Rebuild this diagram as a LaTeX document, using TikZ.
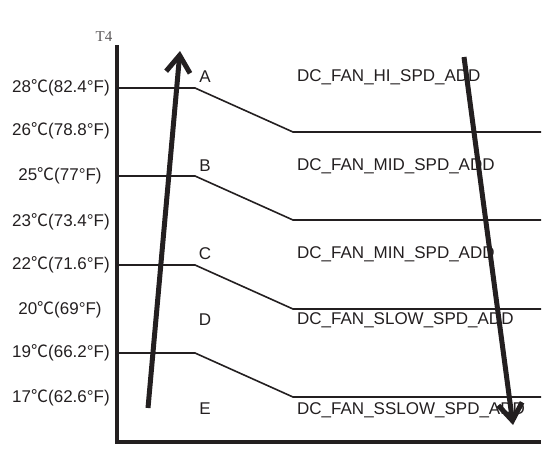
\documentclass[tikz,border=0pt]{standalone}
\usepackage{fontspec}
\setmainfont{Liberation Sans}
\newfontfamily\cjk{Noto Sans CJK SC}
\newfontfamily\tfont{Liberation Serif}
\usetikzlibrary{arrows.meta}
\definecolor{ink}{HTML}{231F20}
\begin{document}
\begin{tikzpicture}[x=1pt,y=-1pt,
  lbl/.style={font=\fontsize{17}{19}\selectfont, text=ink, inner sep=0pt},
  temp/.style={lbl, anchor=center},
  fan/.style={lbl, anchor=west},
  let/.style={lbl, anchor=center},
  thr/.style={draw=ink, line width=1.6pt},
  axis/.style={draw=ink, line width=4pt},
  bigarrow/.style={draw=ink, line width=5pt, -{Straight Barb[length=17pt,width=24pt,line width=5pt]}}]
\useasboundingbox (0,0) rectangle (550,463);
% axes
\draw[axis] (117,45) -- (117,442) -- (541,442);
\node[inner sep=0pt, text=ink!75, font=\tfont\fontsize{15}{16}\selectfont] (t4) at (104,37) {T4};
% thresholds
\draw[thr] (117,88) -- (195,88) -- (293,132) -- (541,132);
\draw[thr] (117,176) -- (195,176) -- (293,220) -- (541,220);
\draw[thr] (117,265) -- (195,265) -- (293,309) -- (541,309);
\draw[thr] (117,353) -- (195,353) -- (293,397) -- (541,397);
% temperature labels
\node[temp] (t28) at (61,88) {28{\cjk ℃}(82.4°F)};
\node[temp] (t26) at (61,131) {26{\cjk ℃}(78.8°F)};
\node[temp] (t25) at (60,176) {25{\cjk ℃}(77°F)};
\node[temp] (t23) at (61,222) {23{\cjk ℃}(73.4°F)};
\node[temp] (t22) at (61,265) {22{\cjk ℃}(71.6°F)};
\node[temp] (t20) at (60,310) {20{\cjk ℃}(69°F)};
\node[temp] (t19) at (61,353) {19{\cjk ℃}(66.2°F)};
\node[temp] (t17) at (61,398) {17{\cjk ℃}(62.6°F)};
% zone letters
\node[let] (A) at (205,77) {A};
\node[let] (B) at (205,166) {B};
\node[let] (C) at (205,254) {C};
\node[let] (D) at (205,320) {D};
\node[let] (E) at (205,409) {E};
% fan texts
\node[fan] (fa) at (297,77) {DC\_FAN\_HI\_SPD\_ADD};
\node[fan] (fb) at (297,166) {DC\_FAN\_MID\_SPD\_ADD};
\node[fan] (fc) at (297,254) {DC\_FAN\_MIN\_SPD\_ADD};
\node[fan] (fd) at (297,320) {DC\_FAN\_SLOW\_SPD\_ADD};
\node[fan] (fe) at (297,410) {DC\_FAN\_SSLOW\_SPD\_ADD};
% arrows
\coordinate (upS) at (148,408);
\coordinate (upE) at (180,51);
\coordinate (dnS) at (464,57);
\coordinate (dnE) at (513,425);
\draw[bigarrow] (upS) -- (upE);
\draw[bigarrow] (dnS) -- (dnE);
\end{tikzpicture}
\end{document}
